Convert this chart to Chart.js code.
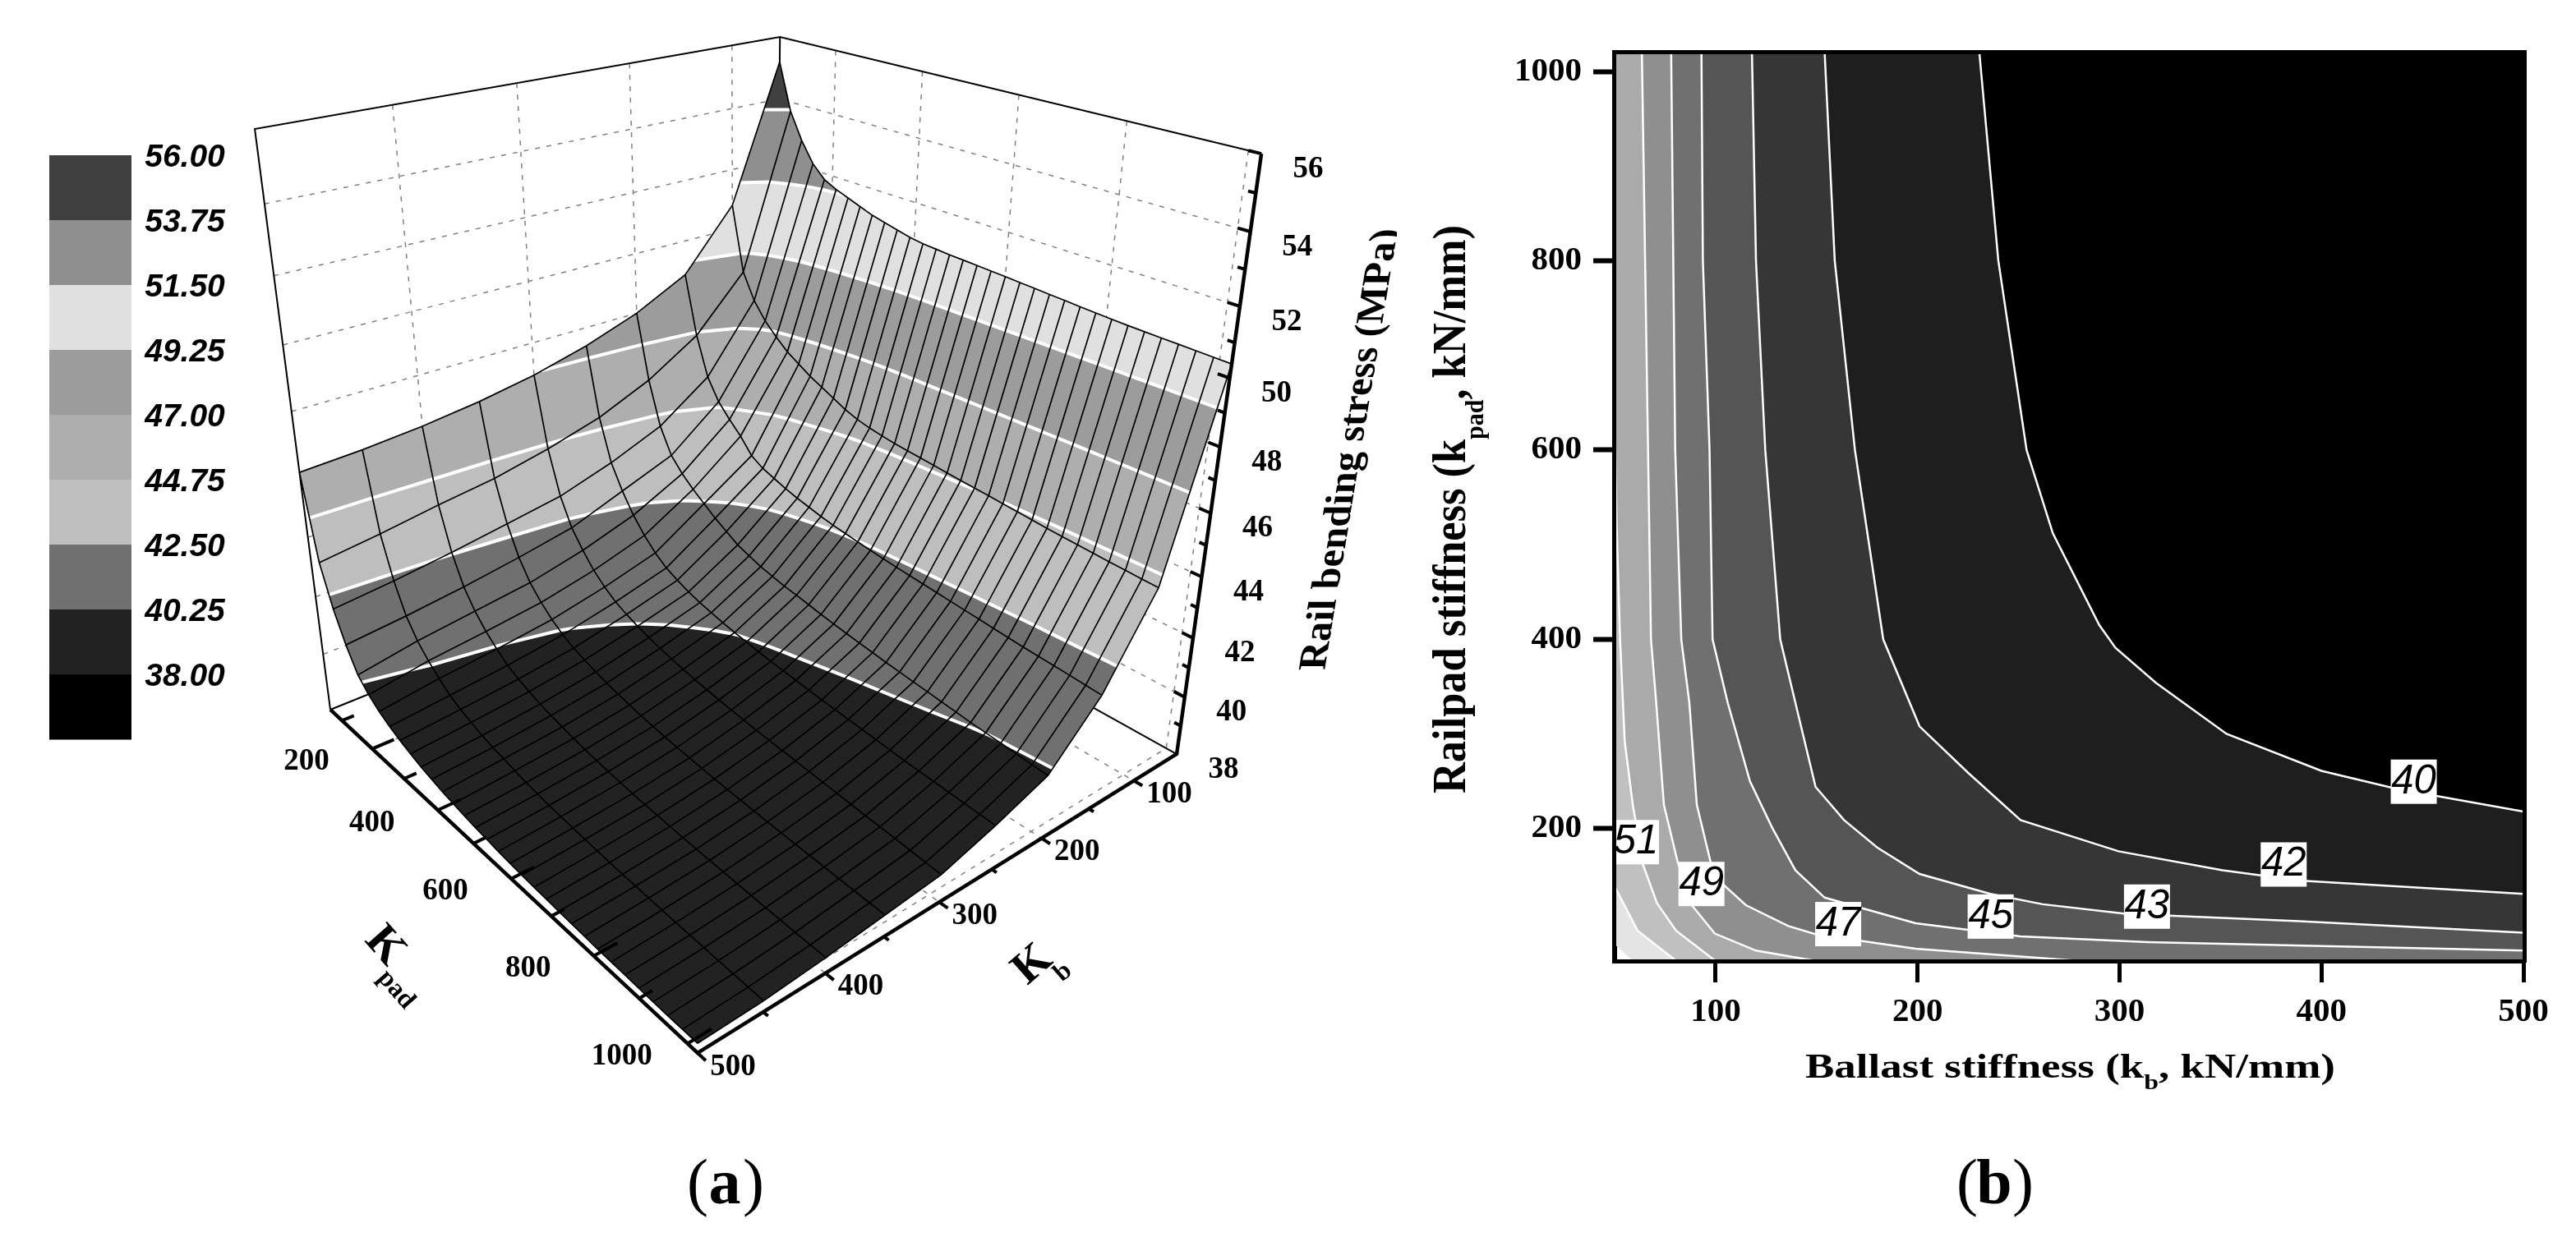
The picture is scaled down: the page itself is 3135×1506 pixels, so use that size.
<!DOCTYPE html>
<html>
<head>
<meta charset="utf-8">
<title>Rail bending stress</title>
<script src="https://cdn.jsdelivr.net/npm/chart.js@4/dist/chart.umd.min.js"></script>
<style>
  html, body { margin: 0; padding: 0; background: #fff; }
  canvas { position: absolute; top: 0; }
  #surfaceChart { left: 0; }
  #contourChart { left: 1700px; }
</style>
</head>
<body>
<canvas id="surfaceChart" width="1700" height="1506"></canvas>
<canvas id="contourChart" width="1435" height="1506"></canvas>
<script>
// ---- panel (a) data
const kbValues = [50, 100, 150, 200, 250, 300, 350, 400, 450, 500];
const kpadValues = [60, 90, 120, 150, 180, 210, 240, 270, 300, 330, 360, 390, 420, 450, 480, 510, 540, 570, 600, 630,
  660, 690, 720, 750, 780, 810, 840, 870, 900, 930, 960, 990, 1020];

const stressKb50 = [55.2,53.7,52.85,52.2,51.8,51.6,51.45,51.3,51.15,51.05,50.95,50.85,50.79,50.76,50.73,50.71,50.69,50.67,50.65,50.62,50.6,50.57,50.55,50.52,50.5,50.48,50.46,50.45,50.44,50.43,50.42,50.41,50.4];
const stressKb100 = [50.8,48.65,47.8,47.25,46.85,46.5,46.25,46,45.8,45.6,45.4,45.25,45.15,45.08,45.02,44.98,44.94,44.9,44.86,44.82,44.78,44.75,44.71,44.67,44.63,44.59,44.56,44.53,44.5,44.47,44.45,44.42,44.4];
const stressKb150 = [48.85,46.9,45.6,44.9,44.45,44.05,43.55,43.3,43.15,43,42.88,42.78,42.68,42.6,42.54,42.48,42.42,42.37,42.32,42.28,42.24,42.2,42.16,42.12,42.08,42.04,42,41.96,41.93,41.9,41.87,41.83,41.8];
const stressKb200 = [48,45.85,44.4,43.55,43.1,42.75,42.45,42.15,41.9,41.65,41.5,41.35,41.25,41.15,41.08,41,40.92,40.85,40.78,40.72,40.66,40.6,40.55,40.5,40.45,40.4,40.35,40.3,40.26,40.22,40.18,40.14,40.1];
const stressKb250 = [47.39,45.1,43.7,42.9,42.25,41.75,41.35,41.05,40.85,40.68,40.55,40.45,40.35,40.27,40.2,40.13,40.07,40.02,39.97,39.92,39.87,39.83,39.79,39.75,39.71,39.67,39.63,39.6,39.57,39.54,39.51,39.48,39.45];
const stressKb300 = [46.93,44.6,43.15,42.25,41.68,41.2,40.85,40.57,40.38,40.22,40.08,39.97,39.87,39.78,39.7,39.63,39.57,39.51,39.46,39.41,39.37,39.33,39.29,39.25,39.21,39.17,39.13,39.09,39.06,39.02,38.98,38.94,38.9];
const stressKb350 = [46.6,44.2,42.85,41.9,41.25,40.8,40.45,40.17,39.97,39.82,39.68,39.57,39.47,39.38,39.3,39.23,39.17,39.12,39.07,39.03,38.99,38.96,38.93,38.9,38.87,38.85,38.82,38.8,38.78,38.76,38.74,38.72,38.7];
const stressKb400 = [46.36,43.95,42.55,41.6,41,40.55,40.2,39.9,39.7,39.55,39.4,39.3,39.2,39.11,39.03,38.97,38.91,38.86,38.81,38.77,38.74,38.71,38.68,38.65,38.63,38.61,38.59,38.57,38.55,38.54,38.52,38.51,38.5];
const stressKb450 = [46.2,43.65,42.3,41.35,40.75,40.33,40,39.7,39.5,39.35,39.2,39.1,39.02,38.93,38.85,38.79,38.73,38.69,38.65,38.61,38.58,38.55,38.52,38.5,38.48,38.46,38.44,38.42,38.41,38.39,38.38,38.37,38.35];
const stressKb500 = [46.1,43.4,42.1,41.15,40.4,40,39.72,39.5,39.33,39.18,39.05,38.95,38.85,38.78,38.71,38.65,38.6,38.55,38.51,38.48,38.45,38.43,38.41,38.39,38.37,38.35,38.34,38.33,38.32,38.31,38.3,38.3,38.3];
const stressTable = [stressKb50, stressKb100, stressKb150, stressKb200, stressKb250, stressKb300, stressKb350, stressKb400, stressKb450, stressKb500];

const bandLevels = [38, 40.25, 42.5, 44.75, 47, 49.25, 51.5, 53.75, 56];
const bandGreys = ['#222222', '#707070', '#bebebe', '#aeaeae', '#9c9c9c', '#e0e0e0', '#8f8f8f', '#404040'];
const legendLabels = ['56.00', '53.75', '51.50', '49.25', '47.00', '44.75', '42.50', '40.25', '38.00'];
const legendGreys = ['#404040', '#8f8f8f', '#e0e0e0', '#9c9c9c', '#aeaeae', '#bebebe', '#707070', '#222222', '#000000'];

const kpadMajor = [200, 400, 600, 800, 1000];
const kpadMinor = [100, 300, 500, 700, 900];
const kbMajor = [100, 200, 300, 400, 500];
const kbMinor = [150, 250, 350, 450];
const stressMajor = [38, 40, 42, 44, 46, 48, 50, 52, 54, 56];
const stressMinor = [39, 41, 43, 45, 47, 49, 51, 53, 55];

// ---- panel (b) data, contour lines as [kb, kpad]
const contour40 = [[230.6,1020],[240,800],[254,600],[267,512],[290,415],[298,391],[318,354],[353,300],[400,261],[437,242],[500,218]];
const contour42 = [[154,1020],[159,800],[169,600],[177,486],[183,400],[201,308],[225,259],[251,209],[299.5,176],[351,156],[389,145],[500,131]];
const contour43 = [[118,1020],[120,800],[124.6,600],[132,400],[139.5,333],[149.5,244],[163.6,209],[180,180],[201,152],[236,131],[262,120],[303,110],[389,102],[500,90]];
const contour45 = [[93,1020],[93.7,800],[97,600],[98.5,400],[106,333],[117,250],[128,201],[139.5,156],[154,127],[199,100],[251,86],[314,80],[500,71]];
const contour47 = [[78,1020],[80,600],[83,400],[87,333],[90.7,225],[97.6,164],[103.7,141],[115,119],[136,97],[150,88],[199,73],[281,60]];
const contour49 = [[63.5,1020],[68,400],[70.6,333],[74.4,225],[81.3,164],[88.6,118],[99.6,89],[120,71],[150,60]];
const contour51 = [[50,644],[51,520],[52.7,400],[55,292],[59,225],[64.2,161],[71,121],[80.5,92],[100,60]];
const contour53 = [[50,139],[61.4,92],[80.6,60]];
const contour55 = [[50,78],[59.4,60]];
const contourLines = [contour55, contour53, contour51, contour49, contour47, contour45, contour43, contour42, contour40];
const contourGreys = ['#e4e4e4', '#c0c0c0', '#aaaaaa', '#8f8f8f', '#707070', '#555555', '#363636', '#1e1e1e', '#000000'];

const contourTags = ['40', '42', '43', '45', '47', '49', '51'];
const contourTagKb = [445.7, 381.3, 313.6, 236.2, 160.7, 93, 60.6];
const contourTagKpad = [249.5, 162, 117.5, 107, 99, 141.4, 185.6];

const xTickValues = [100, 200, 300, 400, 500];
const yTickValues = [200, 400, 600, 800, 1000];

// ---- 3D box view: u runs kpad 1020->60, v runs kb 500->50, w runs stress 38->56
function project(kb, kpad, stress) {
  const u = (1020 - kpad) / 960, v = (500 - kb) / 450, w = (stress - 38) / 18;
  const d = 1 + 0.3254 * u + 0.2735 * v - 0.2066 * w;
  return {
    x: (849 - 316.2 * u + 974.7 * v - 185.9 * w) / d,
    y: (1282 - 136.9 * u - 112.9 * v - 969.5 * w) / d
  };
}

function polyline(points) {
  return points.map(p => project(p[0], p[1], p[2]));
}
function lineSet(points, color, width, dash) {
  return { data: points, showLine: true, fill: false, borderColor: color, borderWidth: width, borderDash: dash || [], pointRadius: 0 };
}
function shapeSet(points, color) {
  return { data: points, showLine: true, fill: 'shape', backgroundColor: color, borderColor: color, borderWidth: 1, pointRadius: 0 };
}

// keeps the part of a cell above (sign 1) or below (sign -1) a stress level
function clipCell(cell, level, sign) {
  const out = [];
  cell.forEach((a, i) => {
    const b = cell[(i + 1) % cell.length];
    const da = (a[2] - level) * sign, db = (b[2] - level) * sign;
    if (da >= 0) out.push(a);
    if ((da > 0 && db < 0) || (da < 0 && db > 0)) {
      const t = da / (da - db);
      out.push([a[0] + (b[0] - a[0]) * t, a[1] + (b[1] - a[1]) * t, level]);
    }
  });
  return out;
}

const dotted = [6, 8];
const surfaceSets = [];

// back walls and floor
stressMajor.slice(1, -1).forEach(z => {
  surfaceSets.push(lineSet(polyline([[500, 60, z], [50, 60, z], [50, 1020, z]]), '#808080', 1.5, dotted));
});
kbMajor.slice(0, 4).forEach(kb => {
  surfaceSets.push(lineSet(polyline([[kb, 60, 56], [kb, 60, 38], [kb, 1020, 38]]), '#808080', 1.5, dotted));
});
kpadMajor.forEach(kp => {
  surfaceSets.push(lineSet(polyline([[50, kp, 56], [50, kp, 38], [500, kp, 38]]), '#808080', 1.5, dotted));
});
surfaceSets.push(lineSet(polyline([[500, 60, 38], [500, 60, 56], [50, 60, 56], [50, 1020, 56]]), '#000', 2));
surfaceSets.push(lineSet(polyline([[50, 60, 56], [50, 60, 38]]), '#000', 2));
surfaceSets.push(lineSet(polyline([[500, 60, 38], [50, 60, 38], [50, 1020, 38]]), '#000', 2));

// surface cells, back to front, cut into the grey bands
const contourPts = [];
for (let i = 0; i < kbValues.length - 1; i++) {
  for (let j = 0; j < kpadValues.length - 1; j++) {
    const cell = [
      [kbValues[i], kpadValues[j], stressTable[i][j]],
      [kbValues[i + 1], kpadValues[j], stressTable[i + 1][j]],
      [kbValues[i + 1], kpadValues[j + 1], stressTable[i + 1][j + 1]],
      [kbValues[i], kpadValues[j + 1], stressTable[i][j + 1]]
    ];
    bandGreys.forEach((grey, b) => {
      let part = clipCell(cell, bandLevels[b], 1);
      if (part.length) part = clipCell(part, bandLevels[b + 1], -1);
      if (part.length > 2) surfaceSets.push(shapeSet(polyline(part), grey));
    });
    bandLevels.slice(1, -1).forEach(level => {
      const cut = [];
      cell.forEach((a, k) => {
        const c = cell[(k + 1) % 4];
        if ((a[2] - level) * (c[2] - level) < 0) {
          const t = (level - a[2]) / (c[2] - a[2]);
          cut.push([a[0] + (c[0] - a[0]) * t, a[1] + (c[1] - a[1]) * t, level]);
        }
      });
      if (cut.length === 2) contourPts.push(...polyline(cut), { x: 0, y: null });
    });
  }
}
const whiteContours = lineSet(contourPts, '#ffffff', 4);
whiteContours.borderCapStyle = 'round';
surfaceSets.push(whiteContours);

// mesh lines
kbValues.forEach((kb, i) => {
  surfaceSets.push(lineSet(polyline(kpadValues.map((kp, j) => [kb, kp, stressTable[i][j]])), '#000', 1.7));
});
kpadValues.forEach((kp, j) => {
  surfaceSets.push(lineSet(polyline(kbValues.map((kb, i) => [kb, kp, stressTable[i][j]])), '#000', 1.7));
});

// axes and tick marks in front of the surface
surfaceSets.push(lineSet(polyline([[500, 60, 38], [500, 1020, 38], [50, 1020, 38], [50, 1020, 56]]), '#000', 4.5));
kpadMajor.forEach(kp => surfaceSets.push(lineSet(polyline([[500, kp, 38], [482, kp, 38]]), '#000', 4)));
kpadMinor.forEach(kp => surfaceSets.push(lineSet(polyline([[500, kp, 38], [490, kp, 38]]), '#000', 4)));
kbMajor.forEach(kb => surfaceSets.push(lineSet(polyline([[kb, 1020, 38], [kb, 1036, 38]]), '#000', 4)));
kbMinor.forEach(kb => surfaceSets.push(lineSet(polyline([[kb, 1020, 38], [kb, 1029, 38]]), '#000', 4)));
stressMajor.slice(1).forEach(z => surfaceSets.push(lineSet(polyline([[50, 1020, z], [50, 1000, z]]), '#000', 4)));
stressMinor.forEach(z => surfaceSets.push(lineSet(polyline([[50, 1020, z], [50, 1008, z]]), '#000', 4)));

function textAt(ctx, text, x, y, font, angle, stretch) {
  ctx.save();
  ctx.translate(x, y);
  ctx.rotate(angle || 0);
  ctx.scale(stretch || 1, 1);
  ctx.font = font;
  ctx.textAlign = 'center';
  ctx.textBaseline = 'middle';
  ctx.fillStyle = '#000';
  ctx.fillText(text, 0, 0);
  ctx.restore();
}

// a title made of plain and subscript runs, fitted to a length along its baseline
function titleRun(ctx, runs, x, y, length, angle) {
  ctx.save();
  ctx.textBaseline = 'alphabetic';
  ctx.textAlign = 'left';
  ctx.fillStyle = '#000';
  let total = 0;
  runs.forEach(r => { ctx.font = r.font; total += ctx.measureText(r.text).width; });
  ctx.translate(x, y);
  ctx.rotate(angle || 0);
  ctx.scale(length / total, 1);
  let pos = 0;
  runs.forEach(r => {
    ctx.font = r.font;
    ctx.fillText(r.text, pos, r.drop || 0);
    pos += ctx.measureText(r.text).width;
  });
  ctx.restore();
}

const serifBold = '"Liberation Serif"';

function panelLetter(ctx, letter, x) {
  textAt(ctx, '(', x - 33, 1445, '78px ' + serifBold);
  textAt(ctx, letter, x, 1445, 'bold 78px ' + serifBold);
  textAt(ctx, ')', x + 35, 1445, '78px ' + serifBold);
}

const surfaceText = {
  id: 'surfaceText',
  afterDraw(chart) {
    const ctx = chart.ctx, sx = chart.scales.x, sy = chart.scales.y;
    const at = (kb, kp, z, dx, dy) => {
      const p = project(kb, kp, z);
      return [sx.getPixelForValue(p.x) + dx, sy.getPixelForValue(p.y) + dy];
    };
    const tick = 'bold 37px ' + serifBold;
    kpadMajor.forEach(kp => { const q = at(500, kp, 38, -80, 16); textAt(ctx, String(kp), q[0], q[1], tick); });
    kbMajor.forEach(kb => { const q = at(kb, 1020, 38, 43, 17); textAt(ctx, String(kb), q[0], q[1], tick); });
    stressMajor.forEach(z => { const q = at(50, 1020, z, 57, 19); textAt(ctx, String(z), q[0], q[1], tick); });

    // z title runs up the slanted axis but its stems stay level
    ctx.save();
    ctx.font = 'bold 48px ' + serifBold;
    ctx.textBaseline = 'alphabetic';
    ctx.fillStyle = '#000';
    const zTitle = 'Rail bending stress (MPa)';
    const zScale = 545 / ctx.measureText(zTitle).width;
    ctx.transform(0.1635 * zScale, -0.9866 * zScale, 1, 0, 1612, 816);
    ctx.fillText(zTitle, 0, 0);
    ctx.restore();

    textAt(ctx, 'K', 468, 1152, 'bold 56px ' + serifBold, 0.85);
    textAt(ctx, 'pad', 482, 1205, 'bold 32px ' + serifBold, 0.85);
    textAt(ctx, 'K', 1257, 1175, 'bold 56px ' + serifBold, -0.72);
    textAt(ctx, 'b', 1294, 1184, 'bold 32px ' + serifBold, -0.72);

    // colour scale
    legendGreys.forEach((grey, i) => {
      ctx.fillStyle = grey;
      ctx.fillRect(60, 189 + i * 79, 100, 79.5);
      textAt(ctx, legendLabels[i], 225, 192 + i * 79, 'italic bold 39px "Liberation Sans"');
    });

    panelLetter(ctx, 'a', 882);
  }
};

new Chart(document.getElementById('surfaceChart'), {
  type: 'scatter',
  data: { datasets: surfaceSets.slice().reverse() },
  options: {
    responsive: false,
    devicePixelRatio: 1,
    animation: false,
    events: [],
    plugins: { legend: { display: false }, tooltip: { enabled: false } },
    scales: {
      x: { type: 'linear', min: 0, max: 1700, display: false },
      y: { type: 'linear', min: 0, max: 1506, reverse: true, display: false }
    }
  },
  plugins: [surfaceText]
});

// ---- panel (b)
const contourSets = [];
contourLines.forEach((line, i) => {
  const pts = line.map(p => ({ x: p[0], y: p[1] }));
  pts.push({ x: 500, y: line[line.length - 1][1] }, { x: 500, y: 1020 }, { x: line[0][0], y: 1020 });
  contourSets.push(shapeSet(pts, contourGreys[i]));
});
contourLines.slice(1).forEach(line => {
  contourSets.push(lineSet(line.map(p => ({ x: p[0], y: p[1] })), '#ffffff', 2.5));
});

const contourText = {
  id: 'contourText',
  afterDraw(chart) {
    const ctx = chart.ctx, a = chart.chartArea, sx = chart.scales.x, sy = chart.scales.y;
    ctx.save();
    ctx.beginPath();
    ctx.rect(a.left, a.top, a.right - a.left, a.bottom - a.top);
    ctx.clip();
    contourTags.forEach((tag, i) => {
      const x = sx.getPixelForValue(contourTagKb[i]), y = sy.getPixelForValue(contourTagKpad[i]);
      ctx.fillStyle = '#fff';
      ctx.fillRect(x - 28, y - 27, 56, 54);
      textAt(ctx, tag, x, y, 'italic 50px "Liberation Sans"', 0, 0.98);
    });
    ctx.restore();

    // frame on top of the fills and tags
    ctx.fillStyle = '#000';
    ctx.fillRect(a.left - 3, a.top - 3, a.right - a.left + 6, 5);
    ctx.fillRect(a.right - 1, a.top - 3, 5, a.bottom - a.top + 5);
    ctx.fillRect(a.left - 3, a.top - 3, 5, a.bottom - a.top + 5);
    ctx.fillRect(a.left - 3, a.bottom - 2, a.right - a.left + 6, 5);

    titleRun(ctx, [
      { text: 'Ballast stiffness (k', font: 'bold 43px ' + serifBold },
      { text: 'b', font: 'bold 26px ' + serifBold, drop: 14 },
      { text: ', kN/mm)', font: 'bold 43px ' + serifBold }
    ], 2197 - 1700, 1312, 645);
    titleRun(ctx, [
      { text: 'Railpad stiffness (k', font: 'bold 56px ' + serifBold },
      { text: 'pad', font: 'bold 32px ' + serifBold, drop: 22 },
      { text: ', kN/mm)', font: 'bold 56px ' + serifBold }
    ], 1783 - 1700, 966, 692, -Math.PI / 2);

    panelLetter(ctx, 'b', 2427 - 1700);
  }
};

const tickFont = { family: 'Liberation Serif', size: 41, weight: 'bold' };
new Chart(document.getElementById('contourChart'), {
  type: 'scatter',
  data: { datasets: contourSets.slice().reverse() },
  options: {
    responsive: false,
    devicePixelRatio: 1,
    animation: false,
    events: [],
    layout: { padding: { top: 64, right: 64, bottom: 196, left: 0 } },
    plugins: { legend: { display: false }, tooltip: { enabled: false } },
    scales: {
      x: {
        type: 'linear', min: 50, max: 500,
        afterBuildTicks: s => { s.ticks = xTickValues.map(v => ({ value: v })); },
        afterFit: s => { s.height = 140; },
        grid: { drawOnChartArea: false, tickLength: 26, tickWidth: 5, tickColor: '#000' },
        border: { width: 5, color: '#000' },
        ticks: { font: tickFont, color: '#000', padding: 12, maxRotation: 0, callback: v => String(v) }
      },
      y: {
        type: 'linear', min: 60, max: 1020,
        afterBuildTicks: s => { s.ticks = yTickValues.map(v => ({ value: v })); },
        afterFit: s => { s.width = 265; },
        grid: { drawOnChartArea: false, tickLength: 26, tickWidth: 6, tickColor: '#000' },
        border: { width: 5, color: '#000' },
        ticks: { font: tickFont, color: '#000', padding: 14, callback: v => String(v) }
      }
    }
  },
  plugins: [contourText]
});
</script>
</body>
</html>
